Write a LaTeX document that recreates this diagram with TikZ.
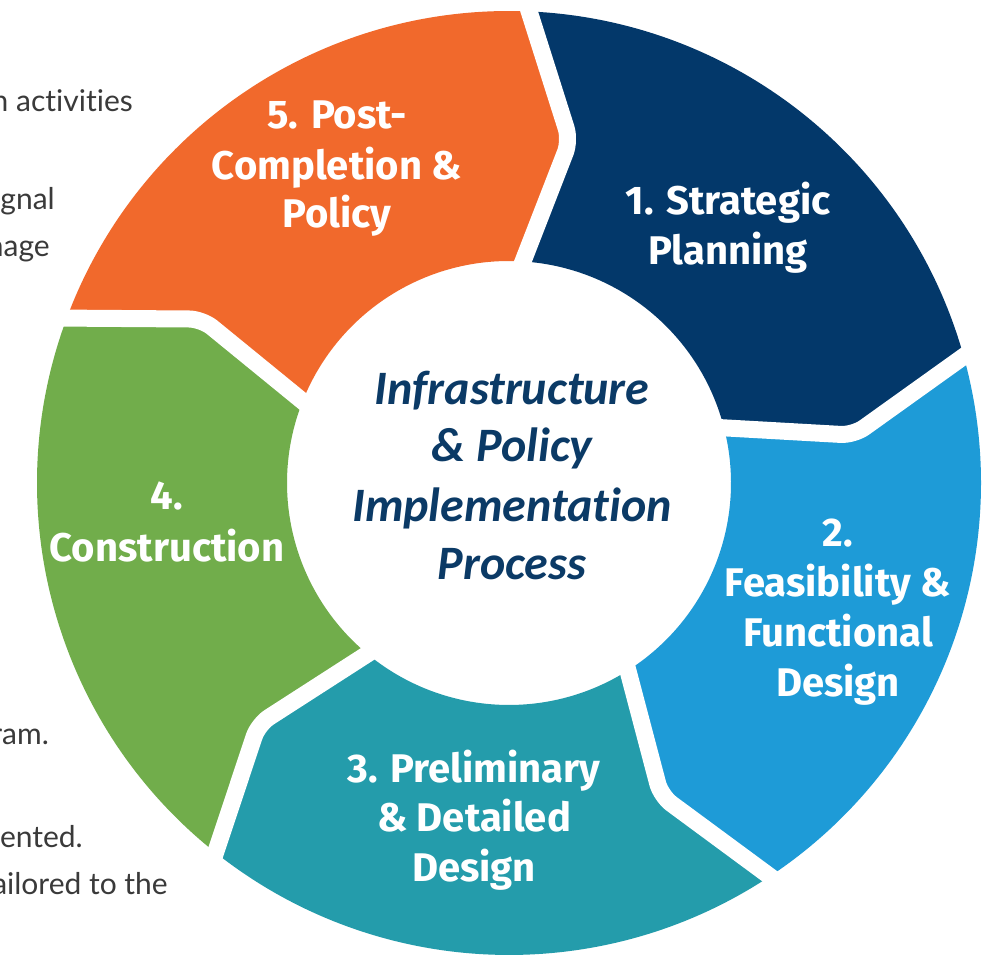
\documentclass[tikz,border=0pt]{standalone}
\usepackage{fontspec}
\setmainfont{Carlito}[Ligatures=NoCommon]
\newfontfamily\segfont{Fira Sans}
\newfontfamily\bodyfont{Lato}[Ligatures=NoCommon]
\definecolor{cnavy}{HTML}{03386A}
\definecolor{corange}{HTML}{F1692C}
\definecolor{cblue}{HTML}{1E9BD7}
\definecolor{cteal}{HTML}{249CAB}
\definecolor{cgreen}{HTML}{71AD4B}
\definecolor{ctext}{HTML}{0B3A66}
\definecolor{cbody}{HTML}{3A3A3A}
\newcommand\ringseg[3]{%
  \fill[#1] (#2:472) arc[start angle=#2, end angle=#3, radius=472]
    -- (#3-8.5:348) -- (#3:222) arc[start angle=#3, end angle=#2, radius=222]
    -- (#2-8.5:348) -- cycle;}
\newcommand\gapcut[1]{%
  \draw[gapline] (#1:492) -- (#1-8.5:348) -- (#1:200);}
\begin{document}
\begin{tikzpicture}[x=1pt,y=1pt,
  gapline/.style={white, line width=17pt, rounded corners=13pt},
  seglabel/.style={text=white, font=\segfont\bfseries\fontsize{40}{40}\selectfont, anchor=base, inner sep=0pt},
  centerlabel/.style={text=ctext, font=\bfseries\itshape\fontsize{48}{48}\selectfont, anchor=base, inner sep=0pt},
  bodytext/.style={text=cbody, font=\bodyfont\fontsize{30}{30}\selectfont, anchor=base east, inner sep=0pt}]
\useasboundingbox (0,0) rectangle (986,957);
\clip (0,0) rectangle (986,957);
\fill[white] (0,0) rectangle (986,957);

% cut-off body text on the left (cut by the picture's edge, as in the reference)
\node[bodytext] (t1) at (133,845) {n activities};
\node[bodytext] (t2) at (55,747) {gnal};
\node[bodytext] (t3) at (50,700) {nage};
\node[bodytext] (t4) at (49,212) {ram.};
\node[bodytext] (t5) at (83,109) {ented.};
\node[bodytext] (t6) at (168,62) {ailored to the};

% ring segments
\begin{scope}[shift={(509,474)}]
  \ringseg{cnavy}{88.4}{16.4}
  \ringseg{cblue}{16.4}{-55.6}
  \ringseg{cteal}{-55.6}{-127.6}
  \ringseg{cgreen}{-127.6}{-199.6}
  \ringseg{corange}{160.4}{88.4}
  \gapcut{88.4}
  \gapcut{16.4}
  \gapcut{-55.6}
  \gapcut{-127.6}
  \gapcut{160.4}
\end{scope}

% segment labels
\node[seglabel] (s1a) at (728,742) {1. Strategic};
\node[seglabel] (s1b) at (728,692) {Planning};
\node[seglabel] (s2a) at (838,410) {2.};
\node[seglabel] (s2b) at (838,360) {Feasibility \&};
\node[seglabel] (s2c) at (838,310) {Functional};
\node[seglabel] (s2d) at (838,260) {Design};
\node[seglabel] (s3a) at (474,174) {3. Preliminary};
\node[seglabel] (s3b) at (474,125) {\& Detailed};
\node[seglabel] (s3c) at (474,75) {Design};
\node[seglabel] (s4a) at (167,447) {4.};
\node[seglabel] (s4b) at (167,395) {Construction};
\node[seglabel] (s5a) at (337,828) {5. Post-};
\node[seglabel] (s5b) at (337,777) {Completion \&};
\node[seglabel] (s5c) at (337,729) {Policy};

% centre title
\node[centerlabel] (c1) at (512,552) {Infrastructure};
\node[centerlabel] (c2) at (512,495) {\& Policy};
\node[centerlabel] (c3) at (512,435) {Implementation};
\node[centerlabel] (c4) at (512,377) {Process};
\end{tikzpicture}
\end{document}
